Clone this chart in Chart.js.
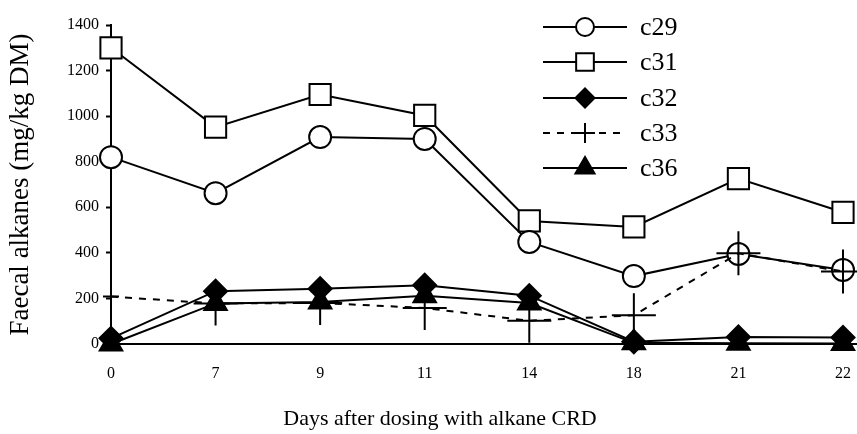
<!DOCTYPE html>
<html>
<head>
<meta charset="utf-8">
<script src="https://cdn.jsdelivr.net/npm/chart.js@4"></script>
<style>
  html, body { margin: 0; padding: 0; background: #fff; }
  #wrap { width: 857px; height: 434px; }
</style>
</head>
<body>
<div id="wrap"><canvas id="alkaneChart"></canvas></div>
<script>
// days after dosing (category axis, evenly spaced)
const days = ['0', '7', '9', '11', '14', '18', '21', '22'];

// faecal alkane concentrations, mg/kg DM
const c29 = [820, 662, 908, 900, 448, 298, 395, 325];
const c31 = [1300, 952, 1095, 1003, 540, 514, 726, 578];
const c32 = [25, 232, 243, 258, 212, 10, 31, 29];
const c33 = [208, 178, 180, 158, 102, 126, 398, 318];
const c36 = [0, 178, 184, 212, 180, 5, 3, 2];

const yTicks = [0, 200, 400, 600, 800, 1000, 1200, 1400];

const FONT = "'Liberation Serif', 'Times New Roman', serif";

// legend drawn as line + marker + label, like the original figure
const lineLegend = {
    id: 'lineLegend',
    afterDraw(chart) {
        const ctx = chart.ctx;
        const area = chart.chartArea;
        // x axis runs on past the last category to the edge
        ctx.save();
        ctx.strokeStyle = '#000';
        ctx.lineWidth = 2;
        ctx.beginPath();
        ctx.moveTo(area.right, area.bottom);
        ctx.lineTo(chart.width, area.bottom);
        ctx.stroke();
        ctx.restore();

        const rows = [27, 62, 98, 133, 168];
        chart.data.datasets.forEach((ds, i) => {
            const y = rows[i];
            ctx.save();
            ctx.strokeStyle = '#000';
            ctx.lineWidth = 2;
            ctx.setLineDash(ds.borderDash || []);
            ctx.beginPath();
            ctx.moveTo(543, y);
            ctx.lineTo(627, y);
            ctx.stroke();
            ctx.setLineDash([]);
            ctx.fillStyle = ds.pointBackgroundColor;
            ctx.strokeStyle = '#000';
            ctx.lineWidth = 2;
            Chart.helpers.drawPoint(ctx, { pointStyle: ds.pointStyle, radius: ds.legendRadius, rotation: 0, borderWidth: 2 }, 585, y);
            ctx.fillStyle = '#000';
            ctx.font = '26px ' + FONT;
            ctx.textBaseline = 'middle';
            ctx.textAlign = 'left';
            ctx.fillText(ds.label, 640, y + 1);
            ctx.restore();
        });
        // x axis title
        ctx.save();
        ctx.fillStyle = '#000';
        ctx.font = '22px ' + FONT;
        ctx.textAlign = 'center';
        ctx.textBaseline = 'middle';
        ctx.fillText('Days after dosing with alkane CRD', 440, 419);
        ctx.restore();
    }
};

const base = {
    borderColor: '#000',
    borderWidth: 2,
    pointBorderColor: '#000',
    pointBorderWidth: 2,
    pointHoverRadius: 0,
    tension: 0,
    clip: false
};

const ctx = document.getElementById('alkaneChart').getContext('2d');
const chart = new Chart(ctx, {
    type: 'line',
    data: {
        labels: days,
        datasets: [
            { ...base, label: 'c29', data: c29, pointStyle: 'circle', pointRadius: 11, legendRadius: 9,
              pointBackgroundColor: '#fff', order: 4 },
            { ...base, label: 'c31', data: c31, pointStyle: 'rect', pointRadius: 15, legendRadius: 12.5,
              pointBackgroundColor: '#fff', order: 5 },
            { ...base, label: 'c32', data: c32, pointStyle: 'rectRot', pointRadius: 11.5, legendRadius: 9.5,
              pointBackgroundColor: '#000', order: 2 },
            { ...base, label: 'c33', data: c33, pointStyle: 'cross', pointRadius: [8, 22, 22, 22, 22, 22, 22, 22],
              legendRadius: 10, pointBackgroundColor: '#000', borderDash: [7, 7], order: 3 },
            { ...base, label: 'c36', data: c36, pointStyle: 'triangle', pointRadius: 13, legendRadius: 11,
              pointBackgroundColor: '#000', order: 1 }
        ]
    },
    options: {
        responsive: true,
        maintainAspectRatio: false,
        animation: false,
        layout: { autoPadding: false, padding: { top: 25, right: 14, left: 0, bottom: 0 } },
        plugins: {
            legend: { display: false },
            tooltip: { enabled: false }
        },
        scales: {
            x: {
                offset: false,
                grid: { display: false, drawTicks: true, tickLength: 18 },
                border: { display: true, color: '#000', width: 2 },
                ticks: { color: '#000', font: { family: FONT, size: 16 }, padding: 2, maxRotation: 0 },
                afterFit: s => { s.height = 90; }
            },
            y: {
                min: 0,
                max: 1400,
                afterBuildTicks: s => { s.ticks = yTicks.map(v => ({ value: v })); },
                grid: { drawOnChartArea: false, drawTicks: true, tickLength: 5, color: '#000', tickWidth: 2 },
                border: { display: true, color: '#000', width: 2 },
                ticks: { color: '#000', font: { family: FONT, size: 16 }, padding: 7, callback: v => String(v) },
                title: {
                    display: true,
                    text: 'Faecal alkanes (mg/kg DM)',
                    color: '#000',
                    font: { family: FONT, size: 27 },
                    padding: { top: 5, bottom: 0 }
                },
                afterFit: s => { s.width = 111; }
            }
        }
    },
    plugins: [lineLegend]
});
</script>
</body>
</html>
